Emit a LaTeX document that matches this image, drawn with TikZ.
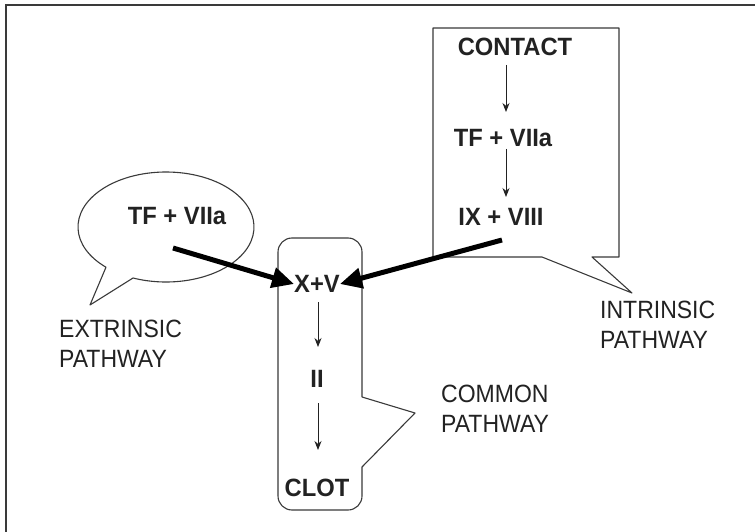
\documentclass[tikz,border=0pt]{standalone}
\usepackage{fontspec}
\setmainfont{Liberation Sans}
\newfontfamily\boldlabel[FakeStretch=0.95]{Liberation Sans Bold}
\newfontfamily\plainlabel[FakeStretch=0.92]{Liberation Sans}
\usetikzlibrary{arrows.meta,calc}
\definecolor{ink}{HTML}{222222}
\definecolor{edge}{HTML}{3A3A3A}
\begin{document}
\begin{tikzpicture}[x=1pt,y=-1pt,
  bold/.style={font=\boldlabel\fontsize{25}{28}\selectfont, text=ink, inner sep=0pt},
  plain/.style={font=\plainlabel\fontsize{25}{30}\selectfont, text=ink, align=left, inner sep=0pt, anchor=north west},
  shape line/.style={draw=edge, line width=1.1pt, line join=round},
  thin arrow/.style={draw=ink, line width=0.9pt, -{Stealth[length=9pt,width=7pt]}},
  thick arrow/.style={draw=black, line width=5pt, -{Triangle[length=22pt,width=20pt]}}]
\useasboundingbox (0,0) rectangle (755,532);
\fill[white] (0,0) rectangle (755,532);

% outer frame: top and left rules
\draw[edge, line width=1.6pt] (6,532) -- (6,5) -- (755,5);

% extrinsic speech bubble
\draw[shape line] (90,305) -- ($(166,227)+(133:88 and 55)$)
  arc[start angle=133, end angle=472, x radius=88, y radius=55] -- cycle;

% common pathway box with its pointer
\draw[shape line, rounded corners=14pt] (362,397) -- (362,238) -- (278,238) -- (278,510) -- (362,510)
  [sharp corners] -- (362,467) -- (415,413) -- (362,397);

% intrinsic pathway box with its pointer
\draw[shape line] (433,28) -- (619,28) -- (619,257) -- (592,257) -- (632,293) -- (542,257) -- (433,257) -- cycle;

% texts
\node[bold] (tfx) at (177,216) {TF + VIIa};
\node[bold] (xv) at (317,284) {X+V};
\node[bold] (ii) at (317,379) {II};
\node[bold] (clot) at (317,488) {CLOT};
\node[bold] (contact) at (515,47) {CONTACT};
\node[bold] (tfi) at (503,138) {TF + VIIa};
\node[bold] (ixviii) at (501,217) {IX + VIII};

\node[plain] (ext) at (59,320) {EXTRINSIC\\PATHWAY};
\node[plain] (com) at (441,385) {COMMON\\PATHWAY};
\node[plain] (int) at (600,301) {INTRINSIC\\PATHWAY};

% cascade steps
\draw[thin arrow] (506,65) -- (506,112);
\draw[thin arrow] (506,149) -- (506,197);
\draw[thin arrow] (318,302) -- (318,347);
\draw[thin arrow] (318,403) -- (318,450);

% entries into the common pathway
\coordinate (extstart) at (173,248);
\coordinate (intstart) at (502,240);
\draw[thick arrow] (extstart) -- (xv.west);
\draw[thick arrow] (intstart) -- (xv.east);
\end{tikzpicture}
\end{document}
